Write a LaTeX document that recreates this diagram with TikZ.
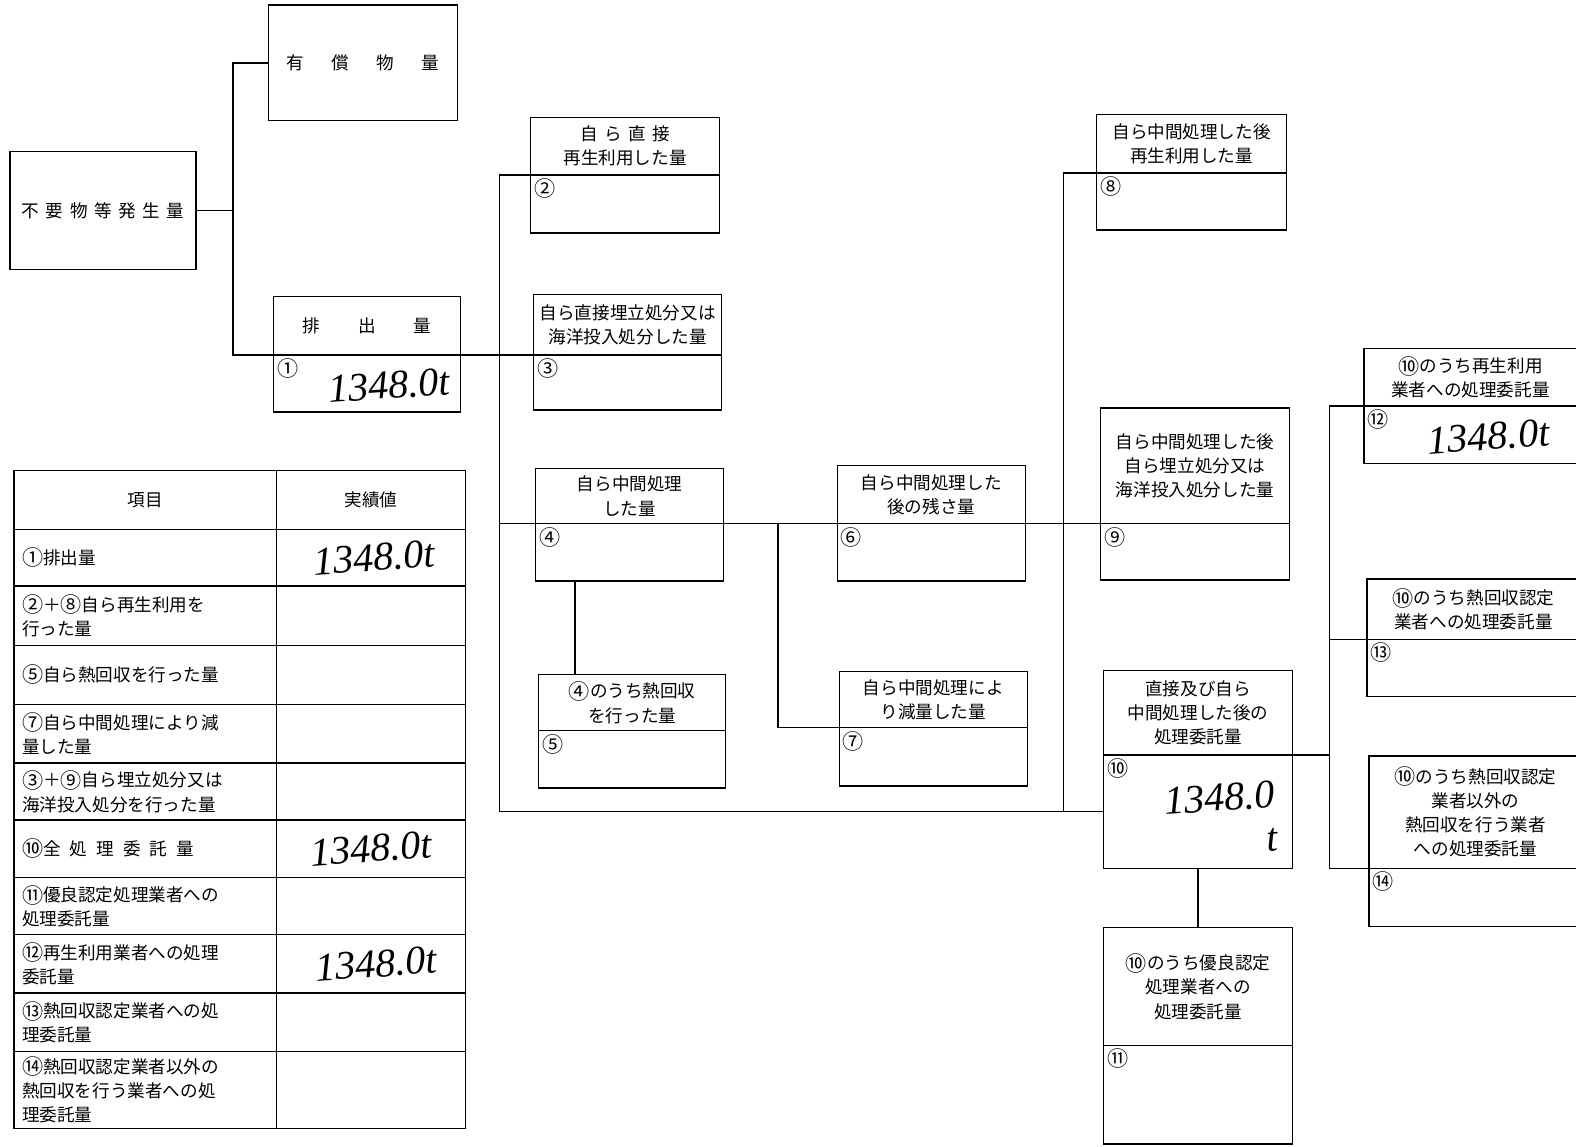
\documentclass[tikz,border=0pt]{standalone}
\usepackage{fontspec}
\setmainfont{Noto Sans CJK JP}
\newfontfamily\handfont{Liberation Serif}
\usetikzlibrary{positioning}
\newcommand\boxfont{\fontsize{17.5}{24}\selectfont}
\newcommand\valfont{\handfont\itshape\fontsize{40}{44}\selectfont}
\newcommand\cn[1]{\raisebox{-1.5pt}{\fontsize{21}{24}\selectfont #1}}

\begin{document}
\begin{tikzpicture}[x=1pt, y=-1pt, line width=1.4pt,
  head/.style={draw, align=center, inner sep=0pt, outer sep=0pt, anchor=north west, font=\boxfont},
  body/.style={draw, inner sep=0pt, outer sep=0pt, anchor=north},
  idx/.style={anchor=north west, inner xsep=3pt, inner ysep=3pt, font=\fontsize{21}{24}\selectfont},
  val/.style={font=\valfont, rotate=4, inner sep=0pt},
  cell/.style={draw, anchor=north west, inner xsep=8pt, inner ysep=0pt, outer sep=0pt, minimum width=261pt,
               text width=245pt, align=left, font=\boxfont},
  valcell/.style={draw, anchor=north west, inner sep=0pt, outer sep=0pt, minimum width=188pt, font=\boxfont}
]
\useasboundingbox (0,0) rectangle (1568,1141);
\clip (0,0) rectangle (1568,1141);

% left part
\node[head, minimum width=185pt, minimum height=117pt] (gen) at (10,151)
  {不\hspace{6.5pt}要\hspace{6.5pt}物\hspace{6.5pt}等\hspace{6.5pt}発\hspace{6.5pt}生\hspace{6.5pt}量};
\node[head, minimum width=188pt, minimum height=115pt] (yu) at (267,5)
  {有\hspace{27pt}償\hspace{27pt}物\hspace{27pt}量};
\node[head, minimum width=186pt, minimum height=58pt] (h1) at (272,295)
  {排\hspace{38pt}出\hspace{38pt}量};
\node[body, minimum width=186pt, minimum height=57pt] (b1) at (h1.south) {};
\node[idx] (n1) at (b1.north west) {①};
\node[val] (v1) at ([xshift=22pt,yshift=-2pt]b1.center) {1348.0t};

% direct
\node[head, minimum width=188pt, minimum height=57pt] (h2) at (528,117)
  {自\hspace{6.5pt}ら\hspace{6.5pt}直\hspace{6.5pt}接\\再生利用した量};
\node[body, minimum width=188pt, minimum height=58pt] (b2) at (h2.south) {};
\node[idx] (n2) at (b2.north west) {②};

\node[head, minimum width=187pt, minimum height=60pt] (h3) at (531,293)
  {自ら直接埋立処分又は\\海洋投入処分した量};
\node[body, minimum width=187pt, minimum height=55pt] (b3) at (h3.south) {};
\node[idx] (n3) at (b3.north west) {③};

% intermediate
\node[head, minimum width=187pt, minimum height=55pt] (h4) at (533,466)
  {自ら中間処理\\した量};
\node[body, minimum width=187pt, minimum height=57pt] (b4) at (h4.south) {};
\node[idx] (n4) at (b4.north west) {④};

\node[head, minimum width=186pt, minimum height=56pt] (h5) at (536,671)
  {\cn{④}のうち熱回収\\を行った量};
\node[body, minimum width=186pt, minimum height=57pt] (b5) at (h5.south) {};
\node[idx] (n5) at (b5.north west) {⑤};

\node[head, minimum width=187pt, minimum height=58pt] (h6) at (833,463)
  {自ら中間処理した\\後の残さ量};
\node[body, minimum width=187pt, minimum height=57pt] (b6) at (h6.south) {};
\node[idx] (n6) at (b6.north west) {⑥};

\node[head, minimum width=187pt, minimum height=56pt] (h7) at (835,668)
  {自ら中間処理によ\\り減量した量};
\node[body, minimum width=187pt, minimum height=58pt] (b7) at (h7.south) {};
\node[idx] (n7) at (b7.north west) {⑦};

\node[head, minimum width=189pt, minimum height=58pt] (h8) at (1091,114)
  {自ら中間処理した後\\再生利用した量};
\node[body, minimum width=189pt, minimum height=57pt] (b8) at (h8.south) {};
\node[idx] (n8) at (b8.north west) {⑧};

\node[head, minimum width=188pt, minimum height=115pt] (h9) at (1095,406)
  {自ら中間処理した後\\自ら埋立処分又は\\海洋投入処分した量};
\node[body, minimum width=188pt, minimum height=56pt] (b9) at (h9.south) {};
\node[idx] (n9) at (b9.north west) {⑨};

% consignment
\node[head, minimum width=188pt, minimum height=84pt] (h10) at (1098,667)
  {直接及び自ら\\中間処理した後の\\処理委託量};
\node[body, minimum width=188pt, minimum height=113pt] (b10) at (h10.south) {};
\node[idx] (n10) at (b10.north west) {⑩};
\node[val, align=right] (v10) at ([xshift=23pt,yshift=-8pt]b10.center) {1348.0\\t};

\node[head, minimum width=188pt, minimum height=117pt] (h11) at (1098,923)
  {\cn{⑩}のうち優良認定\\処理業者への\\処理委託量};
\node[body, minimum width=188pt, minimum height=98pt] (b11) at (h11.south) {};
\node[idx] (n11) at (b11.north west) {⑪};

\node[head, minimum width=212pt, minimum height=57pt] (h12) at (1357,347)
  {\cn{⑩}のうち再生利用\\業者への処理委託量};
\node[body, minimum width=212pt, minimum height=57pt] (b12) at (h12.south) {};
\node[idx] (n12) at (b12.north west) {⑫};
\node[val] (v12) at ([xshift=18pt,yshift=-2pt]b12.center) {1348.0t};

\node[head, minimum width=212pt, minimum height=60pt] (h13) at (1360,576)
  {\cn{⑩}のうち熱回収認定\\業者への処理委託量};
\node[body, minimum width=212pt, minimum height=57pt] (b13) at (h13.south) {};
\node[idx] (n13) at (b13.north west) {⑬};

\node[head, minimum width=212pt, minimum height=112pt] (h14) at (1362,752)
  {\cn{⑩}のうち熱回収認定\\業者以外の\\熱回収を行う業者\\への処理委託量};
\node[body, minimum width=212pt, minimum height=58pt] (b14) at (h14.south) {};
\node[idx] (n14) at (b14.north west) {⑭};

% wires
\coordinate (s1) at (232,0);
\coordinate (s2) at (497,0);
\coordinate (s3) at (774,0);
\coordinate (s4) at (1058,0);
\coordinate (s5) at (1323,0);
\coordinate (t45) at ([xshift=39pt]b4.south west);
\draw (gen.east) -- (gen.east -| s1);
\draw (yu.west) -| (s1 |- h1.south) -- (h3.south west);
\draw (h2.south west) -| (s2 |- b10.west) -- (b10.west);
\draw (s2 |- h4.south) -- (h4.south west);
\draw (h4.south east) -- (h6.south west);
\draw (h6.south east) -- (h9.south west);
\draw (s3 |- h4.south) |- (h7.south west);
\draw (t45) -- (t45 |- h5.north);
\draw (h8.south west) -| (s4 |- b10.west);
\draw (h10.south east) -| (s5 |- h12.south) -- (h12.south west);
\draw (s5 |- h12.south) |- (h14.south west);
\draw (s5 |- h13.south) -- (h13.south west);
\draw (b10.south) -- (h11.north);

% table
\node[cell, minimum height=59pt, align=center] (itemhd) at (14,468) {項目};
\node[valcell, minimum height=59pt] (valhd) at (275,468) {実績値};
\foreach \ya/\hh/\txt [count=\i] in {
  527/56/{\cn{①}排出量},
  583/59/{\cn{②}＋\cn{⑧}自ら再生利用を\\行った量},
  642/59/{\cn{⑤}自ら熱回収を行った量},
  701/58/{\cn{⑦}自ら中間処理により減\\量した量},
  759/57/{\cn{③}＋\cn{⑨}自ら埋立処分又は\\海洋投入処分を行った量},
  816/57/{\cn{⑩}全\hspace{9pt}処\hspace{9pt}理\hspace{9pt}委\hspace{9pt}託\hspace{9pt}量},
  873/57/{\cn{⑪}優良認定処理業者への\\処理委託量},
  930/58/{\cn{⑫}再生利用業者への処理\\委託量},
  988/58/{\cn{⑬}熱回収認定業者への処\\理委託量},
  1046/77/{\cn{⑭}熱回収認定業者以外の\\熱回収を行う業者への処\\理委託量}}
{
  \node[cell, minimum height=\hh pt] (item\i) at (14,\ya) {\txt};
  \node[valcell, minimum height=\hh pt] (val\i) at (275,\ya) {};
}
\node[val] (tv1) at ([xshift=3pt]val1.center) {1348.0t};
\node[val] (tv6) at ([xshift=0pt]val6.center) {1348.0t};
\node[val] (tv8) at ([xshift=5pt]val8.center) {1348.0t};
\end{tikzpicture}
\end{document}
